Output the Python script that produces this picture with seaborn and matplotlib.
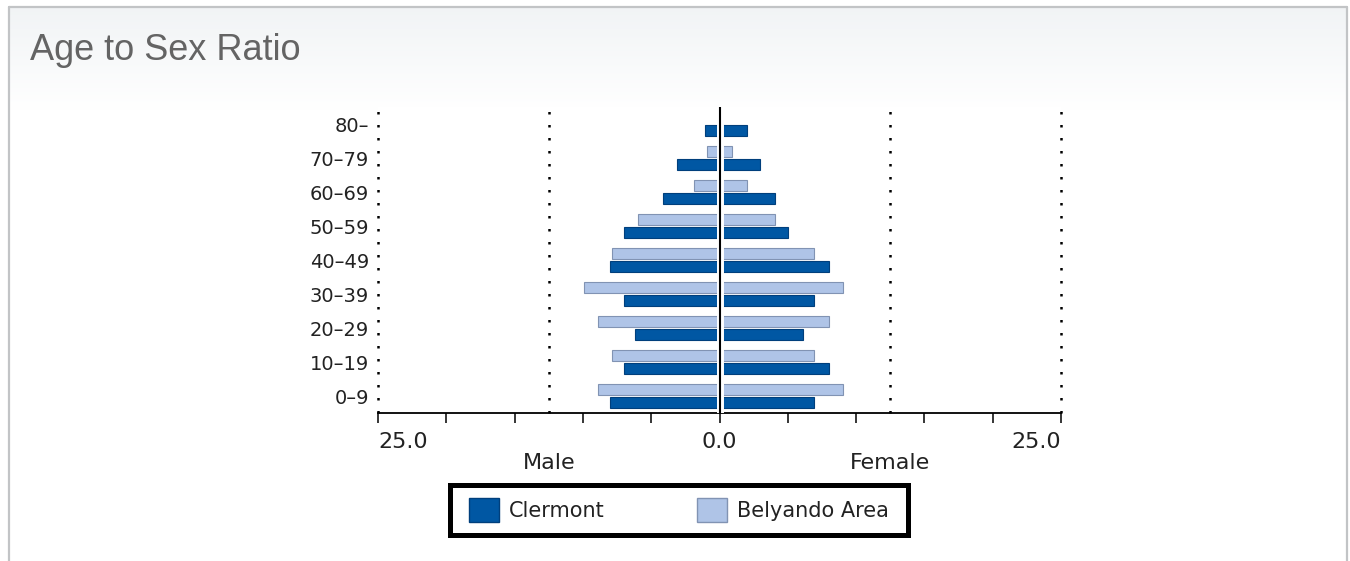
import numpy as np
import pandas as pd
import matplotlib
matplotlib.use('Agg')
import matplotlib.pyplot as plt
import seaborn as sns
from matplotlib.patches import Patch, Rectangle

sns.set_style('white')
plt.rcParams['font.family'] = ['DejaVu Sans']

# Chart data (percent of population)
ages = ['80–', '70–79', '60–69', '50–59', '40–49', '30–39', '20–29', '10–19', '0–9']
areas = ['Clermont', 'Belyando Area']
clermont_male = [1.05, 3.1, 4.1, 7.0, 8.05, 7.0, 6.15, 7.0, 8.05]
clermont_female = [2.0, 3.0, 4.05, 5.05, 8.0, 6.95, 6.1, 8.0, 6.95]
belyando_male = [0.0, 0.9, 1.9, 6.0, 7.9, 9.95, 8.9, 7.9, 8.9]
belyando_female = [0.0, 0.95, 2.0, 4.05, 6.95, 9.05, 8.0, 6.95, 9.05]
x_ticks = [-25, -20, -15, -10, -5, 0, 5, 10, 15, 20, 25]
x_labels = ['25.0', '', '', '', '', '0.0', '', '', '', '', '25.0']

colors = {'Clermont': '#0057a3', 'Belyando Area': '#afc4e7'}
edges = {'Clermont': '#003f7c', 'Belyando Area': '#8193b3'}

# long format tables, male side negative
male = pd.DataFrame({
    'age': ages * 2,
    'area': ['Clermont'] * len(ages) + ['Belyando Area'] * len(ages),
    'value': [-v for v in clermont_male] + [-v for v in belyando_male],
})
female = pd.DataFrame({
    'age': ages * 2,
    'area': ['Clermont'] * len(ages) + ['Belyando Area'] * len(ages),
    'value': clermont_female + belyando_female,
})

fig = plt.figure(figsize=(13.5, 5.61), dpi=100)

# background panel: header gradient, grey frame, legend box
bg = fig.add_axes([0, 0, 1, 1], zorder=-5)
bg.set_xlim(0, 1350)
bg.set_ylim(561, 0)
g = np.linspace(0, 1, 120).reshape(-1, 1)
grad = np.dstack([0.945 + 0.055 * g, 0.955 + 0.045 * g, 0.962 + 0.038 * g])
bg.imshow(grad, extent=[9, 1347, 110, 7], aspect='auto', interpolation='bilinear')
bg.plot([9, 1347], [7, 7], color='#c2c4c6', lw=1.6)
bg.plot([9, 9], [7, 561], color='#c2c4c6', lw=1.6)
bg.plot([1347, 1347], [7, 561], color='#c2c4c6', lw=1.6)
bg.add_patch(Rectangle((450, 485), 458, 50, fill=False, edgecolor='black', lw=3.6))
bg.axis('off')

fig.text(30 / 1350, 1 - 50 / 561, 'Age to Sex Ratio', fontsize=26, color='#646464',
         family='Liberation Sans', va='center', ha='left')

ax = fig.add_axes([378 / 1350, 1 - 413 / 561, (1061 - 378) / 1350, (413 - 107) / 561])

for df in (male, female):
    sns.barplot(data=df, x='value', y='age', hue='area', order=ages,
                hue_order=['Belyando Area', 'Clermont'], palette=colors, saturation=1,
                orient='h', width=0.76, gap=0.12, legend=False, ax=ax)

for p in ax.patches:
    fc = matplotlib.colors.to_hex(p.get_facecolor())
    name = 'Clermont' if fc == colors['Clermont'] else 'Belyando Area'
    p.set_edgecolor(edges[name])
    p.set_linewidth(0.8)

# gridlines and zero line
for xv in (-25, -12.5, 12.5, 25):
    ax.axvline(xv, color='black', lw=1.8, ls=(0, (1, 4.2)), zorder=0, clip_on=False)
ax.axvline(0, color='white', lw=5, zorder=3)
ax.axvline(0, color='black', lw=1.5, zorder=4)

ax.set_xlim(-25, 25)
ax.set_ylim(8.5, -0.5)
for s in ('top', 'right', 'left'):
    ax.spines[s].set_visible(False)
ax.spines['bottom'].set_color('black')
ax.spines['bottom'].set_linewidth(1.3)

ax.set_xticks(x_ticks)
ax.set_xticklabels(x_labels, fontsize=16, color='#222222')
ax.tick_params(axis='x', bottom=True, direction='out', length=7.5, width=1.1,
               color='black', pad=6)
labs = ax.get_xticklabels()
labs[0].set_ha('left')
labs[-1].set_ha('right')
ax.tick_params(axis='y', left=False, pad=3, labelsize=14, labelcolor='#222222')
ax.set_xlabel('')
ax.set_ylabel('')

ax.text(-12.5, -0.163, 'Male', transform=ax.get_xaxis_transform(), ha='center',
        va='center', fontsize=16, color='#222222')
ax.text(12.5, -0.163, 'Female', transform=ax.get_xaxis_transform(), ha='center',
        va='center', fontsize=16, color='#222222')

handles = [Patch(facecolor=colors[a], edgecolor=edges[a], label=a) for a in areas]
leg = fig.legend(handles=handles, loc='center', bbox_to_anchor=(679 / 1350, 1 - 510 / 561),
                 ncol=2, fontsize=15, frameon=False, handlelength=1.45,
                 handleheight=1.4, handletextpad=0.5, columnspacing=4.4,
                 borderpad=0.4, borderaxespad=0)
for t in leg.get_texts():
    t.set_color('#222222')

fig.savefig('out.png', dpi=100)
